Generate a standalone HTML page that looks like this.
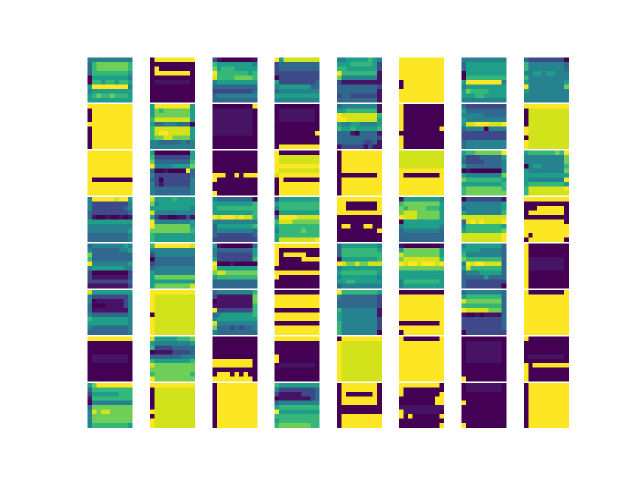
<!DOCTYPE html>
<html><head><meta charset="utf-8"><style>
html,body{margin:0;padding:0;background:#fff;}
svg{display:block;}
</style></head><body>
<svg id="chart" width="640" height="480" viewBox="0 0 640 480" xmlns="http://www.w3.org/2000/svg" shape-rendering="crispEdges">
<rect width="640" height="480" fill="#ffffff"/>
<g id="panels"></g>
</svg>
<script>
// viridis-like palette levels 0..9
const palette = ["#440154","#471365","#3e4989","#31688e","#26828e","#1f9e89","#35b779","#6ece58","#d2e21b","#fde725"];

const row0Images = [
 ["4444444444","3677777776","3677777776","3666666665","0555555554","0665665665","5999999994","4555555555","5676676665","5555555555"],
 ["0999999999","0000000000","0900000000","0999999990","0000000000","0111111110","0000000000","0000000000","0000000000","0000000000"],
 ["2100000001","6555555554","7566655555","9666666656","8666677776","4555555555","3333333333","2222222223","3444444444","3333333333"],
 ["9588888888","2333333333","2333333333","2222222222","0222222222","5222222223","4555555533","3444444444","5555555555","4444444444"],
 ["4455555654","5556666652","6655555552","9666666661","7444444441","2111111111","3333333332","3333333331","2332222221","3333333331"],
 ["9999999999","9999999999","9999999999","9999999999","9999999999","0999999999","0999999999","9999999999","9999999999","9999999999"],
 ["4444444444","3555555555","3555555555","0555555555","0666666666","5999999994","4555555555","5766665555","5556655555","4444444444"],
 ["3222222220","6444444443","6444444443","4455455444","6444444444","5444444445","9444444447","5444444444","4444444444","4444444444"]
];
const row1Images = [
 ["9999999999","0999999999","0999999999","0999999999","9999999999","0999999999","0999999999","0999999999","0999999999","0999999999"],
 ["5999999995","5767777775","5777777775","6888888885","5334443330","6888888885","6899888885","6778877775","4433333434","4444444444"],
 ["0000000009","1111111110","1111111110","1111111110","1111111110","1111111110","1111111110","0000000000","0000000000","0000000000"],
 ["0000000000","0111111110","0111111110","0111111110","0000000000","0000000000","0000000009","0000000000","0000000000","0999999999"],
 ["3444444441","5566666661","9888888886","9988888885","5445544445","6556555556","3331033331","3333333332","3333332231","1222221211"],
 ["9000000000","9000000000","9000000000","9000000000","9000000000","9000000009","0000000000","9000000000","9000000000","9000000000"],
 ["3222222222","5333333333","4444433333","5444444444","5889998889","3444404444","2222222222","2222222222","3444444444","3444444444"],
 ["9999999999","0888888888","0888888888","0888888888","0888888888","9888888888","9888888888","0888888888","9888888888","9888888888"]
];
const row2Images = [
 ["9999999999","9999999999","9999999999","9999999999","9999999999","9999999999","9000000000","9999999999","9999999999","9999999999"],
 ["5000000005","6222222225","7333333336","9444455557","3001000093","4222222223","3202222224","4212222224","4333333334","4333333334"],
 ["0000000000","0000000000","0000000000","0000000000","0000000000","9990090999","9000000000","0000000000","0000000000","9000000000"],
 ["9000000000","9888888888","9888888888","9999999999","9888888888","8999999999","0900000000","0999999999","0999999999","0999999999"],
 ["0999999999","0999999999","0999999999","0999999999","0999999999","0000000009","0999999999","0999999999","0999999999","0999999999"],
 ["8888888888","8888888888","8888888888","8888888888","9999999999","9000000009","9999999999","9999999999","9999999999","9999999999"],
 ["5667777779","4222333335","3222233334","5333333334","0100000004","5444444447","7666666665","5555555556","6777777776","6777777777"],
 ["5666666769","4444444447","4444444447","0455444446","5444444447","5555555555","5444444449","5666666665","6888888889","6888888888"]
];
const row3Images = [
 ["4999998995","4222222224","4222222234","3222222223","3100100101","5555555555","4444444444","4444444445","3333333334","3333333334"],
 ["8555565555","7455555555","5555555554","8444444444","5211001121","9444444445","9777777775","7777777776","6555555555","6555555555"],
 ["4333333330","5555555556","5666666666","5555555556","9899989886","4444444444","3555555556","3444444443","3222222223","2222222222"],
 ["2555555555","5666666666","4666666666","0555555555","3999988888","6888777777","5666666666","4666667666","5666666666","5888888889"],
 ["9999999999","9900000009","9900000009","9999999999","0000000000","0000000000","0990009900","0000000009","0000000000","0000000000"],
 ["1555555554","6777777775","7677776665","7888777775","9888777775","0555555555","4555555554","3444444443","3333333333","3333333333"],
 ["0222222221","4444444445","3444444445","5444444446","8888888888","3898988889","4666666665","5666666667","8888888889","8888888889"],
 ["9999999999","0000000000","0009999990","0999999990","0000000000","9999999990","9999999999","9999999999","9099999999","0999999990"]
];
const row4Images = [
 ["3444444454","4333333445","7333333333","6333333333","9444444445","4555555544","2000000002","2111111112","2222222223","1111111112"],
 ["6999999998","4444444444","2444444444","0333333333","2333333333","3444444444","5444444444","5777777777","5555555555","5777777778"],
 ["5100000003","4333333335","4222222225","5222222226","9000100000","8555555555","7887777777","5666666666","3333333333","3333333333"],
 ["9999999999","9000000000","9099999000","9000009999","9000000000","0000000000","9999999999","9000000000","0000000000","0000000000"],
 ["3555555554","3666666665","3666666666","1555555556","9877877888","4555555555","5666666665","4555555554","5566555555","3444444444"],
 ["1000000001","5777777775","8777777775","7888888886","9899899989","7777777777","5555555555","5555555555","4666666665","4555555555"],
 ["4555555553","5555444443","6444444443","7666666663","4989988883","5866666663","3444555553","3333353333","3222222222","3222222220"],
 ["9000000000","9000000000","9000000000","9111111110","9111111110","9111111110","9000000000","9000000000","9000000000","9000000000"]
];
const row5Images = [
 ["8555555555","4222222224","4011111124","3000111124","3111111114","4333333334","6555555554","5555555554","4333333334","3333333334"],
 ["9999999999","9888888888","9888888888","9888888888","9888888888","0888888888","9888888888","9888888888","9888888888","9888888888"],
 ["3444444446","2111111117","0111111117","1111111116","9222222226","3455555556","4555555555","8444444444","7333232334","4333333333"],
 ["0000000000","9999999999","9999999999","9999999999","0000000000","9999999999","9999999999","0000000000","9999999999","9999999999"],
 ["9666666665","4333333332","3333333332","3333333332","6444444441","5444444441","5444444442","6444444442","6444444442","6444444440"],
 ["0000000000","9999999999","9999999999","9999999999","9999999999","9999999999","9999999999","0000000009","9999999999","0999999999"],
 ["3444444443","5666666663","8777777773","6666666663","9888887773","1001011113","2222222223","2222222223","2222222223","0222222222"],
 ["9000000009","9999999999","9999999999","9999999999","9999999999","9999999999","9999999999","9999999999","9999999999","9999999999"]
];
const row6Images = [
 ["9999999999","0000000000","0000000000","0000000000","0111111110","0111111110","0000000000","0000000000","0000000000","0000000000"],
 ["8555556667","5444444445","6222233333","0111122223","3333333444","6555555556","8777777777","7777777777","6777777776","9777777777"],
 ["0000000000","0000000000","0000000000","0000000000","0000000000","9999999990","9999999990","0000000000","0999090900","9999999990"],
 ["9999999999","0000000000","0000000000","0000000000","9000000000","9000000000","0111111110","0000000000","0000000000","0000000000"],
 ["0999999999","9888888888","9888888888","9888888888","9888888888","9888888888","9888888888","9888888888","9888888888","9888888888"],
 ["9000000009","9999999999","9999999999","9999999999","9999999999","9999999999","9999999999","9999999999","9999999999","9999999999"],
 ["0000000000","0111111110","0111111110","0111111110","0111111110","0111111110","0000000000","0000000000","0000000000","9000000000"],
 ["9000000000","0000000000","0000000000","0000000000","0111111110","0000000000","9099999999","9000000000","9000000000","9000000000"]
];
const row7Images = [
 ["5799999999","3666666666","2555555666","1666666666","0444444444","3777777777","4878877777","4777777777","4777777777","4666666665"],
 ["9999999999","0888888888","0888888888","0888888888","0888888888","0888888888","9888888888","0888888888","9888888888","9888888888"],
 ["0999999999","0999999999","0999999999","0999999999","0999999999","0999999999","0999999999","0999999999","0999999999","0999999999"],
 ["6555555555","4222222223","2111112223","0111111123","3444444444","5666666666","9555555555","6666666666","5666666666","6777777766"],
 ["0999999990","0999999990","0900000090","0999999990","0999999990","0000000000","0000000000","0999999999","0999999999","0999999999"],
 ["9999999990","9000000000","9000000009","0000000099","0000000099","1111111111","9111111110","9090000009","0000000000","0000000009"],
 ["0111111110","0111111110","0000000000","0000000000","9000000000","0000000000","0000000000","0000000000","0000000000","9000000000"],
 ["0999999999","0999999999","0999999999","0999999999","0999999999","0999999999","0999999999","0999999999","0999999999","0999999999"]
];

const gridRows = [row0Images,row1Images,row2Images,row3Images,row4Images,row5Images,row6Images,row7Images];

const X0 = 87.7, DX = 62.3, Y0 = 57.7, DY = 46.45, SIZE = 44.7;
function panelX(c){ return X0 + c*DX; }
function panelY(r){ return Y0 + r*DY; }

const NS = "http://www.w3.org/2000/svg";
const host = document.getElementById('panels');
gridRows.forEach((rowImgs, r) => {
  rowImgs.forEach((img, c) => {
    const g = document.createElementNS(NS, 'g');
    
    
    const nRows = img.length;
    const px0 = panelX(c), py0 = panelY(r);
    img.forEach((line, i) => {
      const nCols = line.length;
      const cw = SIZE / nCols, ch = SIZE / nRows;
      for (let j = 0; j < nCols; j++) {
        const v = parseInt(line[j], 10);
        const rect = document.createElementNS(NS, 'rect');
        const x1 = px0 + j*cw, y1 = py0 + i*ch;
        rect.setAttribute('x', x1.toFixed(2));
        rect.setAttribute('y', y1.toFixed(2));
        rect.setAttribute('width', (cw + 0.3).toFixed(2));
        rect.setAttribute('height', (ch + 0.3).toFixed(2));
        rect.setAttribute('fill', palette[v]);
        
        
        g.appendChild(rect);
      }
    });
    host.appendChild(g);
  });
});
</script>
</body></html>
